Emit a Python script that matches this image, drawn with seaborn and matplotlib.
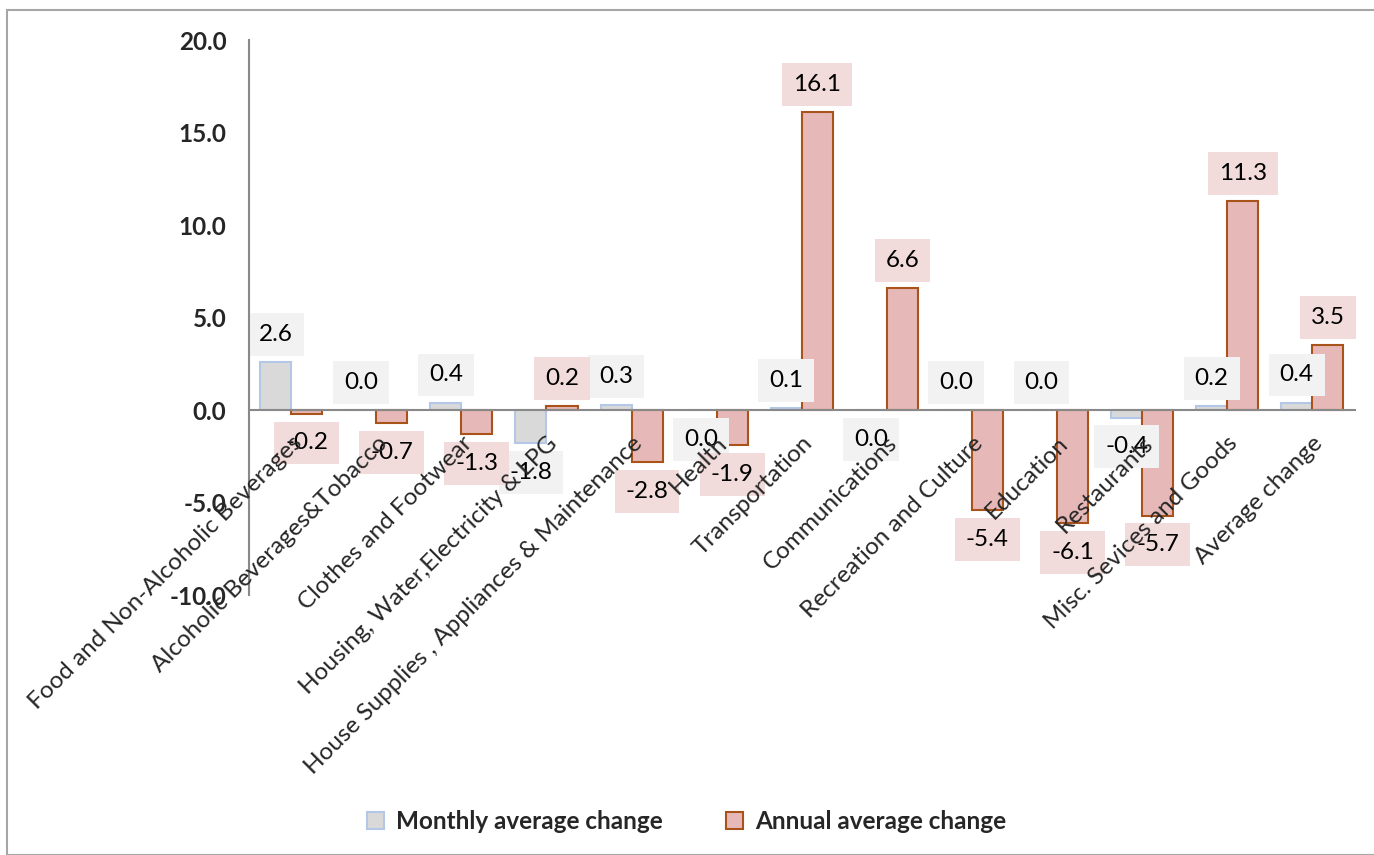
import numpy as np
import matplotlib.pyplot as plt
import matplotlib.patches as mpatches
import pandas as pd
import seaborn as sns

categorias = [
    'Food and Non-Alcoholic Beverages',
    'Alcoholic Beverages&Tobacco',
    'Clothes and Footwear',
    'Housing, Water,Electricity & LPG',
    'House Supplies , Appliances & Maintenance',
    'Health',
    'Transportation',
    'Communications',
    'Recreation and Culture',
    'Education',
    'Restaurants',
    'Misc. Sevices and Goods',
    'Average change',
]
# Health e Communications mensais ficam levemente negativos (rotulo abaixo do eixo)
mensal = [2.6, 0.0, 0.4, -1.8, 0.3, -0.02, 0.1, -0.02, 0.0, 0.0, -0.4, 0.2, 0.4]
anual = [-0.2, -0.7, -1.3, 0.2, -2.8, -1.9, 16.1, 6.6, -5.4, -6.1, -5.7, 11.3, 3.5]
series = ['Monthly average change', 'Annual average change']

cor_fundo = {'Monthly average change': '#D9D9D9', 'Annual average change': '#E6B9B8'}
cor_borda = {'Monthly average change': '#B4C7E7', 'Annual average change': '#A9531A'}
cor_rotulo = {'Monthly average change': '#F2F2F2', 'Annual average change': '#F2DCDB'}

# DataFrame longo para o seaborn
df = pd.DataFrame({
    'categoria': categorias * 2,
    'valor': mensal + anual,
    'serie': [series[0]] * len(categorias) + [series[1]] * len(categorias),
})

sns.set_style('white')
plt.rcParams['font.family'] = ['Lato', 'DejaVu Sans']
tam = 17.5

fig = plt.figure(figsize=(13.74, 8.55), dpi=100)
ax = fig.add_axes([0.181, 0.304, 0.805, 0.649])
ax.set_axisbelow(False)  # nomes das categorias por cima das caixas de rotulo

sns.barplot(data=df, x='categoria', y='valor', hue='serie', hue_order=series,
            palette=cor_fundo, width=0.73, ax=ax, legend=False, saturation=1)

# bordas e rotulos de dados
for serie, cont in zip(series, ax.containers):
    for barra in cont:
        barra.set_edgecolor(cor_borda[serie])
        barra.set_linewidth(1.5)
        barra.set_zorder(1)
        v = barra.get_height()
        x = barra.get_x() + barra.get_width() / 2
        desloc = 20 if v >= 0 else -21
        texto = f'{round(v, 1) + 0.0:.1f}'
        ax.annotate(texto, xy=(x, v), xytext=(0, desloc),
                    textcoords='offset points', ha='center', va='center',
                    fontsize=tam, color='black', zorder=2,
                    bbox=dict(boxstyle='square,pad=0.45', fc=cor_rotulo[serie], ec='none'))

ax.set_ylim(-10, 20)
ax.set_xlim(-0.5, len(categorias) - 0.5)
ax.set_yticks(np.arange(-10, 20.1, 5))
ax.set_yticklabels([f'{t:.1f}' for t in np.arange(-10, 20.1, 5)], fontsize=tam, fontweight='bold')
ax.set_xlabel('')
ax.set_ylabel('')

for lado in ['top', 'right']:
    ax.spines[lado].set_visible(False)
ax.spines['bottom'].set_position(('data', 0))
ax.spines['bottom'].set_color('#898989')
ax.spines['bottom'].set_linewidth(1.5)
ax.spines['left'].set_color('#898989')
ax.spines['left'].set_linewidth(1.5)
ax.tick_params(axis='both', length=0)
ax.tick_params(axis='y', pad=16)
ax.tick_params(axis='x', pad=16)
plt.setp(ax.get_xticklabels(), rotation=45, ha='right', va='top',
         rotation_mode='anchor', fontsize=tam)

# legenda
alcas = [mpatches.Patch(facecolor=cor_fundo[s], edgecolor=cor_borda[s], linewidth=1.5, label=s)
         for s in series]
leg = fig.legend(handles=alcas, loc='center', bbox_to_anchor=(0.5, 0.039), ncol=2,
                 frameon=False, handlelength=0.7, handleheight=0.7, handletextpad=0.5,
                 columnspacing=2.6, prop={'size': tam, 'weight': 'bold'})

# moldura externa
fig.patches.append(mpatches.Rectangle((0.005, 0.0), 1.0, 0.988, transform=fig.transFigure,
                                      fill=False, edgecolor='#A6A6A6', linewidth=1.5))

fig.savefig('out.png', dpi=100)
